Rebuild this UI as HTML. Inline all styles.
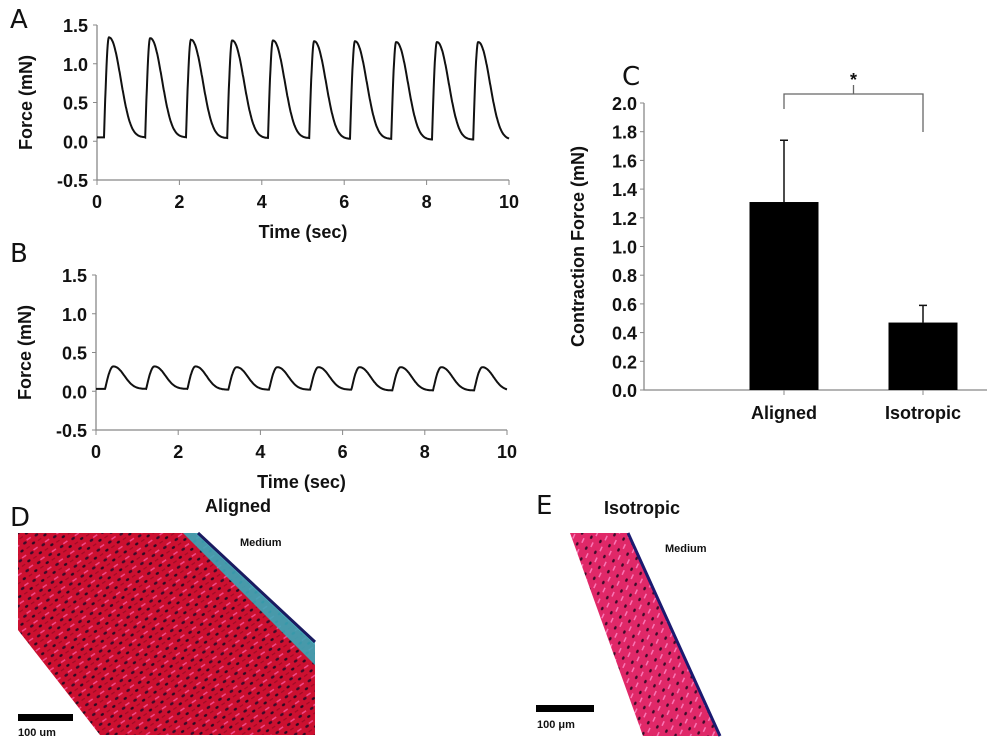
<!DOCTYPE html>
<html><head><meta charset="utf-8"><style>
body{margin:0;background:#fff;}
svg{display:block;font-family:"Liberation Sans",Arial,sans-serif;}
.t{font-weight:bold;font-size:18px;fill:#111;}
.l{font-family:"DejaVu Sans",sans-serif;font-size:26px;fill:#111;}
</style></head><body>
<svg id="fig" width="1000" height="754" viewBox="0 0 1000 754">
<defs>
<pattern id="cells" width="14" height="12" patternUnits="userSpaceOnUse" patternTransform="rotate(-35)">
<rect width="14" height="12" fill="#cc1030"/>
<ellipse cx="3" cy="3" rx="2" ry="1.3" fill="#3a0c2a"/>
<ellipse cx="10" cy="8" rx="1.8" ry="1.2" fill="#2a0a22"/>
<rect x="6" y="1" width="5" height="1.5" fill="#f04a8a"/>
<rect x="1" y="8" width="4" height="1.2" fill="#a00a25"/>
</pattern>
<pattern id="cells2" width="12" height="10" patternUnits="userSpaceOnUse" patternTransform="rotate(-65)">
<rect width="12" height="10" fill="#e02868"/>
<ellipse cx="3" cy="3" rx="1.8" ry="1.2" fill="#3a0c2a"/>
<rect x="6" y="6" width="5" height="1.5" fill="#f877b5"/>
</pattern>
</defs>

<g id="panelA"></g>
<g id="panelB"></g>
<g id="panelC"></g>

<text class="l" x="10" y="28">A</text>
<text class="l" x="10" y="262">B</text>
<text class="l" x="622" y="85">C</text>
<text class="l" x="10" y="526">D</text>
<text class="l" x="536" y="514">E</text>

<g>
<text class="t" x="238" y="512" text-anchor="middle" font-size="21">Aligned</text>
<polygon points="18,533 195,533 315,645 315,735 100,735 18,630" fill="url(#cells)"/>
<polygon points="183,533 198,533 315,640 315,665" fill="#3aa8b8" opacity="0.9"/>
<line x1="198" y1="533" x2="315" y2="642" stroke="#1a1a60" stroke-width="3"/>
<text x="240" y="546" font-size="11" font-weight="bold" fill="#111">Medium</text>
<rect x="18" y="714" width="55" height="7" fill="#000"/>
<text x="18" y="736" font-size="11" font-weight="bold" fill="#111">100 um</text>
</g>

<g>
<text class="t" x="642" y="514" text-anchor="middle" font-size="21">Isotropic</text>
<polygon points="570,533 628,533 720,736 643,736" fill="url(#cells2)"/>
<line x1="628" y1="533" x2="720" y2="736" stroke="#1a1a70" stroke-width="3"/>
<text x="665" y="552" font-size="11" font-weight="bold" fill="#111">Medium</text>
<rect x="536" y="705" width="58" height="7" fill="#000"/>
<text x="537" y="728" font-size="11" font-weight="bold" fill="#111">100 μm</text>
</g>
</svg>
<script>
// Panel A data
const beatOnsetsA = [0.17,1.17,2.16,3.16,4.15,5.15,6.14,7.14,8.13,9.13];
const beatPeaksA = [1.34,1.33,1.31,1.30,1.30,1.29,1.29,1.28,1.28,1.28];
const baselineA = [0.05,0.05,0.04,0.04,0.04,0.03,0.03,0.02,0.02,0.02];
// Panel B data
const beatOnsetsB = [0.22,1.22,2.22,3.22,4.21,5.21,6.21,7.21,8.2,9.2];
const beatPeaksB = [0.32,0.32,0.32,0.31,0.31,0.31,0.31,0.31,0.31,0.31];
const baselineB = [0.03,0.03,0.02,0.02,0.02,0.02,0.01,0.01,0.01,0.01];
const timeTicks = [0,2,4,6,8,10];
const forceTicks = [-0.5,0.0,0.5,1.0,1.5];
const forceTickLabels = ["-0.5","0.0","0.5","1.0","1.5"];
// Panel C data
const categories = ["Aligned","Isotropic"];
const barValues = [1.31,0.47];
const errValues = [0.43,0.12];
const cTicks = [0,0.2,0.4,0.6,0.8,1.0,1.2,1.4,1.6,1.8,2.0];

const NS="http://www.w3.org/2000/svg";
function mk(p,tag,a){const e=document.createElementNS(NS,tag);for(const k in a)e.setAttribute(k,a[k]);p.appendChild(e);return e;}

function trace(gid,x0,x1,yTop,yBot,onsets,peaks,base,rise,decay,name){
  const g=document.getElementById(gid);
  const X=t=>x0+(x1-x0)*t/10, Y=v=>yBot+(yTop-yBot)*(v+0.5)/2;
  const ax=mk(g,'path',{d:`M${x0},${Y(1.5)}V${Y(-0.5)}H${x1}`,stroke:'#888',fill:'none','stroke-width':1.3});
  
  forceTicks.forEach((v,i)=>{
    mk(g,'line',{x1:x0-4,x2:x0,y1:Y(v),y2:Y(v),stroke:'#888'});
    const t=mk(g,'text',{x:x0-9,y:Y(v)+7,'text-anchor':'end',class:'t','font-size':'19'});t.textContent=forceTickLabels[i];
    
  });
  timeTicks.forEach(v=>{
    mk(g,'line',{x1:X(v),x2:X(v),y1:Y(-0.5),y2:Y(-0.5)+5,stroke:'#888'});
    const t=mk(g,'text',{x:X(v),y:Y(-0.5)+28,'text-anchor':'middle',class:'t','font-size':'22'});t.textContent=v;
    
  });
  const xt=mk(g,'text',{x:(x0+x1)/2,y:Y(-0.5)+58,'text-anchor':'middle',class:'t','font-size':'21'});xt.textContent='Time (sec)';
  
  const yt=mk(g,'text',{transform:`translate(${x0-65},${Y(0.5)}) rotate(-90)`,'text-anchor':'middle',class:'t','font-size':'21'});yt.textContent='Force (mN)';
  
  let d='';
  for(let t=0;t<=10.0001;t+=0.01){
    let k=-1;for(let i=0;i<onsets.length;i++)if(t>=onsets[i])k=i;
    let v;
    if(k<0)v=base[0];
    else{
      const dt=t-onsets[k], b=base[k], p=peaks[k];
      if(dt<rise){v=b+(p-b)*Math.sin(Math.PI/2*dt/rise);}
      else{const u=(dt-rise)/decay;v=b+(p-b)*Math.exp(-Math.pow(u,2.2));}
    }
    d+=(d?'L':'M')+X(t).toFixed(1)+','+Y(v).toFixed(1);
  }
  const pth=mk(g,'path',{d:d,fill:'none',stroke:'#111','stroke-width':2});
  
}
trace('panelA',97,509,25,180,beatOnsetsA,beatPeaksA,baselineA,0.12,0.38,'force-trace-a');
trace('panelB',96,507,275,430,beatOnsetsB,beatPeaksB,baselineB,0.2,0.36,'force-trace-b');

(function(){
  const g=document.getElementById('panelC');
  const x0=644,x1=987,yTop=103,yBot=390;
  const Y=v=>yBot-(yBot-yTop)*v/2;
  const cx=[784,923], bw=69;
  mk(g,'path',{d:`M${x0},${yTop}V${yBot}H${x1}`,stroke:'#888',fill:'none','stroke-width':1.3});
  cTicks.forEach(v=>{
    mk(g,'line',{x1:x0-4,x2:x0,y1:Y(v),y2:Y(v),stroke:'#888'});
    const t=mk(g,'text',{x:x0-7,y:Y(v)+7,'text-anchor':'end',class:'t','font-size':'19'});t.textContent=v.toFixed(1);
    
  });
  categories.forEach((c,i)=>{
    mk(g,'line',{x1:cx[i],x2:cx[i],y1:yBot,y2:yBot+5,stroke:'#888'});
    const t=mk(g,'text',{x:cx[i],y:yBot+29,'text-anchor':'middle',class:'t','font-size':'21'});t.textContent=c;
    
    const r=mk(g,'rect',{x:cx[i]-bw/2,y:Y(barValues[i]),width:bw,height:yBot-Y(barValues[i]),fill:'#000'});
    
    const e=mk(g,'path',{d:`M${cx[i]},${Y(barValues[i])}V${Y(barValues[i]+errValues[i])}M${cx[i]-4},${Y(barValues[i]+errValues[i])}H${cx[i]+4}`,stroke:'#111','stroke-width':1.5,fill:'none'});
    
  });
  const br=mk(g,'path',{d:`M${cx[0]},109V94H${cx[1]}V132M${(cx[0]+cx[1])/2},94V85`,stroke:'#666',fill:'none','stroke-width':1.3});
  
  const s=mk(g,'text',{x:(cx[0]+cx[1])/2,y:86,'text-anchor':'middle',class:'t','font-size':'24'});s.textContent='*';
  
  const yt=mk(g,'text',{transform:`translate(584,${(yTop+yBot)/2}) rotate(-90)`,'text-anchor':'middle',class:'t','font-size':'20'});yt.textContent='Contraction Force (mN)';
  
})();
</script>
</body></html>
